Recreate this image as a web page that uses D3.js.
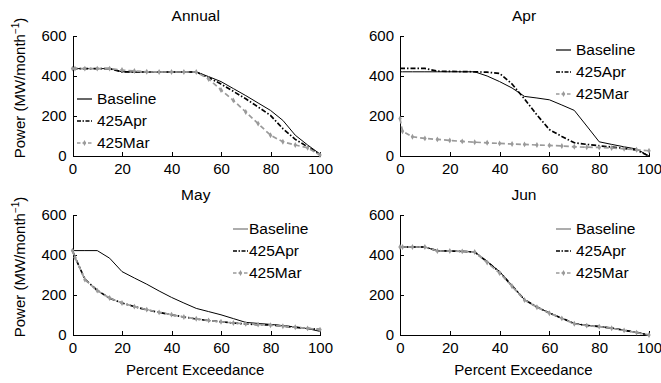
<!DOCTYPE html>
<html>
<head>
<meta charset="utf-8">
<script src="https://cdn.jsdelivr.net/npm/d3@7"></script>
<style>
  body { margin: 0; background: #fff; }
  svg { display: block; font-family: "Liberation Sans", Arial, sans-serif; }
  .axis path, .axis line { stroke: #000; shape-rendering: crispEdges; }
  .axis text { font-size: 15px; fill: #000; font-family: "Liberation Sans", Arial, sans-serif; }
</style>
</head>
<body>
<div id="chart"></div>
<script>
// percent exceedance sample points
const pct = [0, 1, 5, 10, 15, 20, 25, 30, 35, 40, 45, 50, 55, 60, 65, 70, 75, 80, 85, 90, 95, 100];
const seriesNames = ['Baseline', '425Apr', '425Mar'];
const yTicks = [0, 200, 400, 600];
const xTicks = [0, 20, 40, 60, 80, 100];

const annualBaseline = [437, 437, 437, 437, 437, 421, 420, 420, 420, 420, 420, 420, 397, 372, 337, 302, 265, 228, 178, 104, 55, 10];
const annual425Apr   = [437, 437, 437, 437, 437, 421, 420, 420, 420, 420, 420, 420, 392, 360, 323, 286, 245, 203, 137, 83, 46, 8];
const annual425Mar   = [437, 437, 437, 437, 437, 430, 425, 421, 420, 420, 420, 420, 385, 330, 278, 220, 162, 104, 71, 55, 41, 5];

const aprBaseline = [421, 421, 421, 421, 421, 421, 421, 421, 400, 372, 340, 298, 290, 281, 255, 228, 150, 71, 58, 46, 35, 0];
const apr425Apr   = [438, 438, 438, 438, 424, 423, 422, 421, 419, 413, 360, 285, 205, 132, 98, 66, 58, 51, 45, 38, 30, 0];
const apr425Mar   = [187, 124, 96, 88, 83, 78, 73, 69, 66, 63, 60, 58, 55, 53, 50, 46, 44, 43, 40, 36, 31, 26];

const mayBaseline = [422, 422, 422, 422, 384, 317, 285, 254, 220, 188, 160, 133, 117, 101, 82, 63, 58, 53, 47, 40, 32, 18];
const may425Apr   = [422, 390, 279, 223, 184, 160, 142, 126, 113, 101, 90, 80, 72, 66, 60, 55, 52, 50, 45, 38, 33, 27];
const may425Mar   = [422, 388, 277, 222, 185, 160, 142, 127, 113, 102, 90, 81, 73, 66, 60, 56, 52, 49, 44, 39, 33, 27];

const junBaseline = [440, 440, 440, 440, 420, 420, 418, 415, 368, 317, 248, 176, 140, 110, 84, 57, 48, 43, 35, 23, 13, 0];
const jun425Apr   = [440, 440, 440, 440, 421, 420, 418, 415, 366, 315, 246, 177, 140, 110, 84, 57, 48, 42, 35, 24, 13, 0];
const jun425Mar   = [440, 440, 440, 440, 420, 420, 418, 415, 362, 310, 244, 175, 139, 109, 83, 56, 47, 42, 34, 23, 12, 0];

const panels = [
  { title: 'Annual', series: [annualBaseline, annual425Apr, annual425Mar],
    box: { left: 72.5, right: 320, top: 36, bottom: 156 }, legend: { x: 77, y: 99, gap: 20 }, yLabel: true, xLabel: false, grayBase: false },
  { title: 'Apr', series: [aprBaseline, apr425Apr, apr425Mar],
    box: { left: 400, right: 649, top: 36, bottom: 156 }, legend: { x: 556, y: 50, gap: 20 }, yLabel: false, xLabel: false, grayBase: false },
  { title: 'May', series: [mayBaseline, may425Apr, may425Mar],
    box: { left: 72.5, right: 320, top: 215, bottom: 335 }, legend: { x: 233, y: 229, gap: 16 }, yLabel: true, xLabel: true, grayBase: true },
  { title: 'Jun', series: [junBaseline, jun425Apr, jun425Mar],
    box: { left: 400, right: 649, top: 215, bottom: 335 }, legend: { x: 556, y: 229, gap: 20 }, yLabel: false, xLabel: true, grayBase: true }
];

const styles = [
  { stroke: '#000', width: 1, dash: null, marker: false },
  { stroke: '#000', width: 1.7, dash: '5,2,1.5,2', marker: false },
  { stroke: '#9a9a9a', width: 1.7, dash: '5,3', marker: true }
];

const width = 661, height = 383;
const svg = d3.select('#chart').append('svg')
  .attr('width', width)
  .attr('height', height);

panels.forEach(p => drawPanel(p));

function drawPanel(p) {
  const b = p.box;
  const x = d3.scaleLinear().domain([0, 100]).range([b.left, b.right]);
  const y = d3.scaleLinear().domain([0, 600]).range([b.bottom, b.top]);
  const g = svg.append('g');

  g.append('g')
    .attr('class', 'axis')
    .attr('transform', `translate(0, ${b.bottom})`)
    .call(d3.axisBottom(x).tickValues(xTicks).tickSize(-4).tickSizeOuter(0).tickPadding(7))
    .selectAll('text').attr('dy', '0.71em');

  g.append('g')
    .attr('class', 'axis')
    .attr('transform', `translate(${b.left}, 0)`)
    .call(d3.axisLeft(y).tickValues(yTicks).tickSize(-4).tickSizeOuter(0).tickPadding(6));

  g.append('text')
    .attr('x', (b.left + b.right) / 2 - 0.5)
    .attr('y', b.top - 15)
    .attr('text-anchor', 'middle')
    .style('font-size', '15.5px')
    .text(p.title);

  if (p.yLabel) {
    const t = g.append('text')
      .attr('transform', `translate(25, ${(b.top + b.bottom) / 2 - 8}) rotate(-90)`)
      .attr('text-anchor', 'middle')
      .style('font-size', '15px');
    t.append('tspan').text('Power (MW/month');
    t.append('tspan').attr('dy', -6).style('font-size', '10px').text('\u22121');
    t.append('tspan').attr('dy', 6).text(')');
  }
  if (p.xLabel) {
    g.append('text')
      .attr('x', (b.left + b.right) / 2 - 1)
      .attr('y', 375)
      .attr('text-anchor', 'middle')
      .style('font-size', '15px')
      .text('Percent Exceedance');
  }

  const line = d3.line()
    .x((d, i) => x(pct[i]))
    .y(d => y(d));

  p.series.forEach((vals, k) => {
    const s = styles[k];
    g.append('path')
      .datum(vals)
      .attr('fill', 'none')
      .attr('stroke', s.stroke)
      .attr('stroke-width', s.width)
      .attr('stroke-dasharray', s.dash)
      .attr('d', line);
    if (s.marker) {
      g.selectAll(null)
        .data(vals)
        .enter().append('path')
        .attr('transform', (d, i) => `translate(${x(pct[i])}, ${y(d)})`)
        .attr('d', d3.symbol(d3.symbolDiamond, 10))
        .attr('fill', s.stroke);
    }
  });

  // legend
  const lg = g.append('g').attr('transform', `translate(${p.legend.x}, ${p.legend.y})`);
  seriesNames.forEach((name, k) => {
    const s = styles[k];
    const row = lg.append('g').attr('transform', `translate(0, ${k * 22})`);
    row.append('line')
      .attr('x1', 0).attr('x2', 15)
      .attr('stroke', k === 0 && p.grayBase ? '#777' : s.stroke)
      .attr('stroke-width', k === 0 ? 1.2 : s.width)
      .attr('stroke-dasharray', k === 1 ? '4,1.5,1.5,1.5' : (k === 2 ? '3.5,2' : null));
    if (s.marker) {
      row.append('path')
        .attr('transform', 'translate(7.5, 0)')
        .attr('d', d3.symbol(d3.symbolDiamond, 10))
        .attr('fill', s.stroke);
    }
    row.append('text')
      .attr('x', p.legend.gap)
      .attr('dy', '0.35em')
      .style('font-size', '15.5px')
      .text(name);
  });
}
</script>
</body>
</html>
